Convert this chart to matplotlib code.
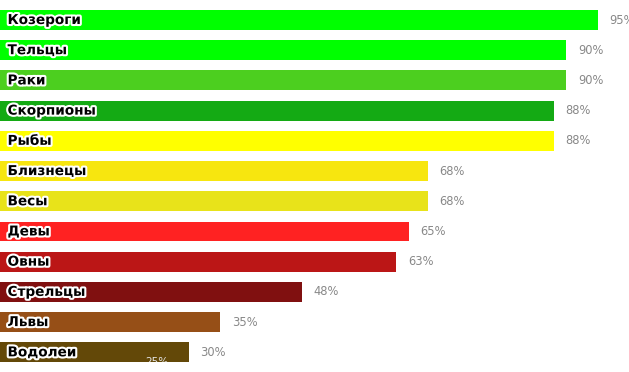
import matplotlib.pyplot as plt
import matplotlib.patheffects as pe

signs = ['Козероги', 'Тельцы', 'Раки', 'Скорпионы', 'Рыбы', 'Близнецы',
         'Весы', 'Девы', 'Овны', 'Стрельцы', 'Львы', 'Водолеи']
values = [95, 90, 90, 88, 88, 68, 68, 65, 63, 48, 35, 30]
colors = ['#00ff00', '#00ff00', '#4ccf1f', '#14aa14', '#ffff00', '#f7e60f',
          '#e8e31a', '#ff2222', '#bb1616', '#801010', '#964f17', '#634808']
# next row is cut off by the bottom edge, only its label peeks out
hidden_value = 25

fig = plt.figure(figsize=(6.29, 3.72), dpi=100)
ax = fig.add_axes([0, 10 / 372, 1, 362 / 372])

rows = list(range(len(signs)))
ax.barh(rows, values, height=0.66, color=colors)

for i, (name, v) in enumerate(zip(signs, values)):
    ax.text(1.2, i, name, ha='left', va='center', fontsize=9.8,
            fontweight='bold', color='black', family='DejaVu Sans',
            path_effects=[pe.withStroke(linewidth=3, foreground='white')])
    ax.annotate(f'{v}%', (v, i), xytext=(8.5, 0), textcoords='offset points',
                ha='left', va='center', fontsize=8.3, color='#888888')

ax.text(hidden_value, 11.17, f'{hidden_value}%', ha='center',
        va='top', fontsize=7.5, color='#e6e6e6', clip_on=True, zorder=5)

ax.set_xlim(0, 100)
ax.set_ylim(11.32, -0.662)
ax.axis('off')

fig.savefig('out.png', dpi=100)
